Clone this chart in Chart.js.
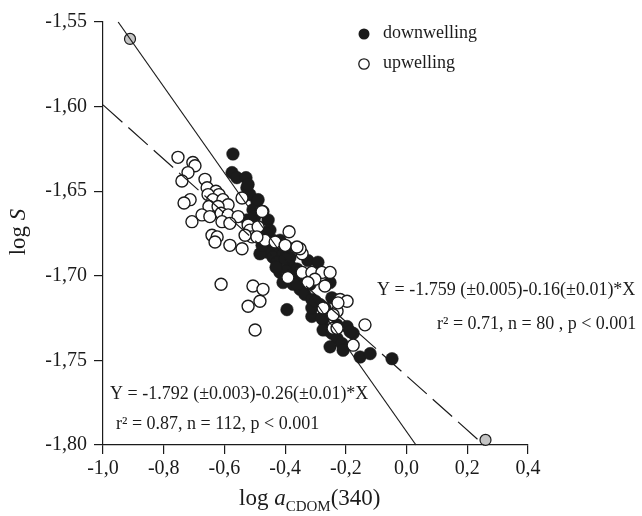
<!DOCTYPE html>
<html>
<head>
<meta charset="utf-8">
<script src="https://cdn.jsdelivr.net/npm/chart.js@4.4.1/dist/chart.umd.min.js"></script>
<style>
html,body{margin:0;padding:0;background:#fff;}
#wrap{width:642px;height:516px;position:relative;}
</style>
</head>
<body>
<div id="wrap"><canvas id="c" width="642" height="516"></canvas></div>
<script>
// ---- data ----
const xTickValues = [-1.0, -0.8, -0.6, -0.4, -0.2, 0.0, 0.2, 0.4];
const yTickValues = [-1.80, -1.75, -1.70, -1.65, -1.60, -1.55];

const downX = [-0.572,-0.575,-0.559,-0.529,-0.526,-0.516,-0.493,-0.506,-0.473,-0.456,-0.526,-0.483,-0.450,-0.440,-0.460,-0.427,-0.522,-0.489,-0.460,-0.440,-0.407,-0.384,-0.427,-0.384,-0.417,-0.374,-0.407,-0.374,-0.351,-0.335,-0.312,-0.285,-0.325,-0.292,-0.394,-0.312,-0.275,-0.262,-0.229,-0.196,-0.176,-0.252,-0.246,-0.443,-0.483,-0.394,-0.312,-0.269,-0.275,-0.246,-0.229,-0.252,-0.213,-0.186,-0.209,-0.153,-0.120,-0.048,-0.400,-0.361,-0.351,-0.318,-0.476,-0.417,-0.430,-0.400,-0.360,-0.330,-0.300,-0.280,-0.500,-0.462];
const downY = [-1.628,-1.639,-1.642,-1.642,-1.648,-1.652,-1.656,-1.661,-1.662,-1.667,-1.667,-1.673,-1.673,-1.679,-1.683,-1.687,-1.646,-1.655,-1.686,-1.689,-1.687,-1.689,-1.692,-1.694,-1.698,-1.700,-1.704,-1.705,-1.708,-1.711,-1.714,-1.717,-1.691,-1.692,-1.720,-1.724,-1.726,-1.732,-1.729,-1.730,-1.734,-1.704,-1.713,-1.681,-1.687,-1.683,-1.719,-1.719,-1.732,-1.734,-1.737,-1.742,-1.740,-1.733,-1.744,-1.748,-1.746,-1.749,-1.697,-1.696,-1.701,-1.705,-1.682,-1.679,-1.695,-1.690,-1.705,-1.700,-1.715,-1.725,-1.665,-1.675];

const upX = [-0.753,-0.704,-0.697,-0.720,-0.740,-0.664,-0.657,-0.628,-0.618,-0.654,-0.638,-0.605,-0.588,-0.713,-0.733,-0.651,-0.621,-0.674,-0.648,-0.611,-0.588,-0.555,-0.707,-0.608,-0.582,-0.542,-0.522,-0.516,-0.489,-0.509,-0.641,-0.624,-0.631,-0.582,-0.542,-0.476,-0.466,-0.433,-0.532,-0.493,-0.387,-0.344,-0.351,-0.400,-0.344,-0.312,-0.279,-0.252,-0.302,-0.325,-0.269,-0.391,-0.219,-0.196,-0.275,-0.229,-0.242,-0.506,-0.473,-0.483,-0.522,-0.499,-0.611,-0.226,-0.242,-0.176,-0.137,-0.229,-0.361];
const upY = [-1.630,-1.633,-1.635,-1.639,-1.644,-1.643,-1.648,-1.650,-1.652,-1.652,-1.655,-1.655,-1.658,-1.655,-1.657,-1.659,-1.659,-1.664,-1.665,-1.663,-1.664,-1.665,-1.668,-1.668,-1.669,-1.654,-1.670,-1.673,-1.671,-1.677,-1.676,-1.677,-1.680,-1.682,-1.684,-1.662,-1.679,-1.680,-1.676,-1.677,-1.674,-1.687,-1.684,-1.682,-1.698,-1.698,-1.698,-1.698,-1.702,-1.704,-1.706,-1.701,-1.714,-1.715,-1.719,-1.721,-1.731,-1.706,-1.708,-1.715,-1.718,-1.732,-1.705,-1.716,-1.723,-1.741,-1.729,-1.731,-1.683];

const endX = [-0.911, 0.260];
const endY = [-1.560, -1.797];

// regression lines (end points)
const solidX = [-0.950, 0.031];
const solidY = [-1.550, -1.800];
const dashX = [-1.000, 0.255];
const dashY = [-1.599, -1.800];

const legendLabels = ['downwelling', 'upwelling'];
const eqText = [
  'Y = -1.759 (\u00b10.005)-0.16(\u00b10.01)*X',
  'r\u00b2 = 0.71, n = 80 , p < 0.001',
  'Y = -1.792 (\u00b10.003)-0.26(\u00b10.01)*X',
  'r\u00b2 = 0.87, n = 112, p < 0.001'
];

// ---- build ----
const zip = (xs, ys) => xs.map((x, i) => ({x: x, y: ys[i]}));
const INK = '#1b1b1b';
const SERIF = '"Liberation Serif", "DejaVu Serif", serif';

const textPlugin = {
  id: 'texts',
  afterDraw(chart) {
    const ctx = chart.ctx;
    ctx.save();
    ctx.fillStyle = INK;
    ctx.strokeStyle = INK;
    // legend
    ctx.lineWidth = 1.3;
    ctx.beginPath(); ctx.arc(364, 34, 5.5, 0, Math.PI * 2); ctx.fill();
    ctx.beginPath(); ctx.arc(364, 64, 5.2, 0, Math.PI * 2);
    ctx.fillStyle = '#fff'; ctx.fill(); ctx.stroke();
    ctx.fillStyle = INK;
    ctx.font = '18px ' + SERIF;
    ctx.textBaseline = 'middle';
    ctx.textAlign = 'left';
    ctx.fillText(legendLabels[0], 383, 33);
    ctx.fillText(legendLabels[1], 383, 63);
    // equations
    ctx.font = '18px ' + SERIF;
    ctx.fillText(eqText[0], 377, 290);
    ctx.fillText(eqText[1], 437, 324);
    ctx.fillText(eqText[2], 110, 394);
    ctx.fillText(eqText[3], 116, 424);
    // x title: log a_CDOM(340)
    ctx.textBaseline = 'alphabetic';
    let x = 239, by = 505;
    ctx.font = '23px ' + SERIF;
    ctx.fillText('log ', x, by); x += ctx.measureText('log ').width;
    ctx.font = 'italic 23px ' + SERIF;
    ctx.fillText('a', x, by); x += ctx.measureText('a').width;
    ctx.font = '15px ' + SERIF;
    ctx.fillText('CDOM', x, by + 6); x += ctx.measureText('CDOM').width;
    ctx.font = '23px ' + SERIF;
    ctx.fillText('(340)', x, by);
    // y title: log S
    ctx.save();
    ctx.translate(25, 232);
    ctx.rotate(-Math.PI / 2);
    ctx.font = '23px ' + SERIF;
    const w1 = ctx.measureText('log ').width;
    ctx.font = 'italic 23px ' + SERIF;
    const w2 = ctx.measureText('S').width;
    let sx = -(w1 + w2) / 2;
    ctx.font = '23px ' + SERIF;
    ctx.fillText('log ', sx, 0);
    ctx.font = 'italic 23px ' + SERIF;
    ctx.fillText('S', sx + w1, 0);
    ctx.restore();
    ctx.restore();
  }
};

const axisCommon = {
  grid: { drawOnChartArea: false, drawTicks: true, tickLength: 9, color: INK, lineWidth: 1.2 },
  border: { display: true, color: INK, width: 1.2 },
};

new Chart(document.getElementById('c'), {
  type: 'scatter',
  data: {
    datasets: [
      { type: 'line', data: zip(solidX, solidY), borderColor: INK, borderWidth: 1.2, pointRadius: 0, fill: false, clip: false },
      { type: 'line', data: zip(dashX, dashY), borderColor: INK, borderWidth: 1.2, borderDash: [26, 8], pointRadius: 0, fill: false, clip: false },
      { data: zip(endX, endY), pointRadius: 5.5, backgroundColor: '#c4c4c4', borderColor: INK, borderWidth: 1.2, clip: false },
      { label: legendLabels[1], data: zip(upX, upY), pointRadius: 6, backgroundColor: '#ffffff', borderColor: INK, borderWidth: 1.4, clip: false },
      { label: legendLabels[0], data: zip(downX, downY), pointRadius: 6.3, backgroundColor: INK, borderColor: INK, borderWidth: 0.5, clip: false }
    ]
  },
  options: {
    responsive: false,
    animation: false,
    events: [],
    layout: { padding: { top: 22, right: 114, left: 0, bottom: 0 } },
    plugins: { legend: { display: false }, tooltip: { enabled: false } },
    scales: {
      x: Object.assign({}, axisCommon, {
        type: 'linear', min: -1.0, max: 0.4,
        afterBuildTicks: s => { s.ticks = xTickValues.map(v => ({ value: v })); },
        afterFit: s => { s.height = 71; },
        ticks: { color: INK, font: { family: SERIF, size: 20 }, padding: 3,
                 callback: v => v.toFixed(1).replace('.', ',') }
      }),
      y: Object.assign({}, axisCommon, {
        type: 'linear', min: -1.80, max: -1.55,
        afterBuildTicks: s => { s.ticks = yTickValues.map(v => ({ value: v })); },
        afterFit: s => { s.width = 103; },
        ticks: { color: INK, font: { family: SERIF, size: 20 }, padding: 7,
                 callback: v => v.toFixed(2).replace('.', ',') }
      })
    }
  },
  plugins: [textPlugin]
});
</script>
</body>
</html>
